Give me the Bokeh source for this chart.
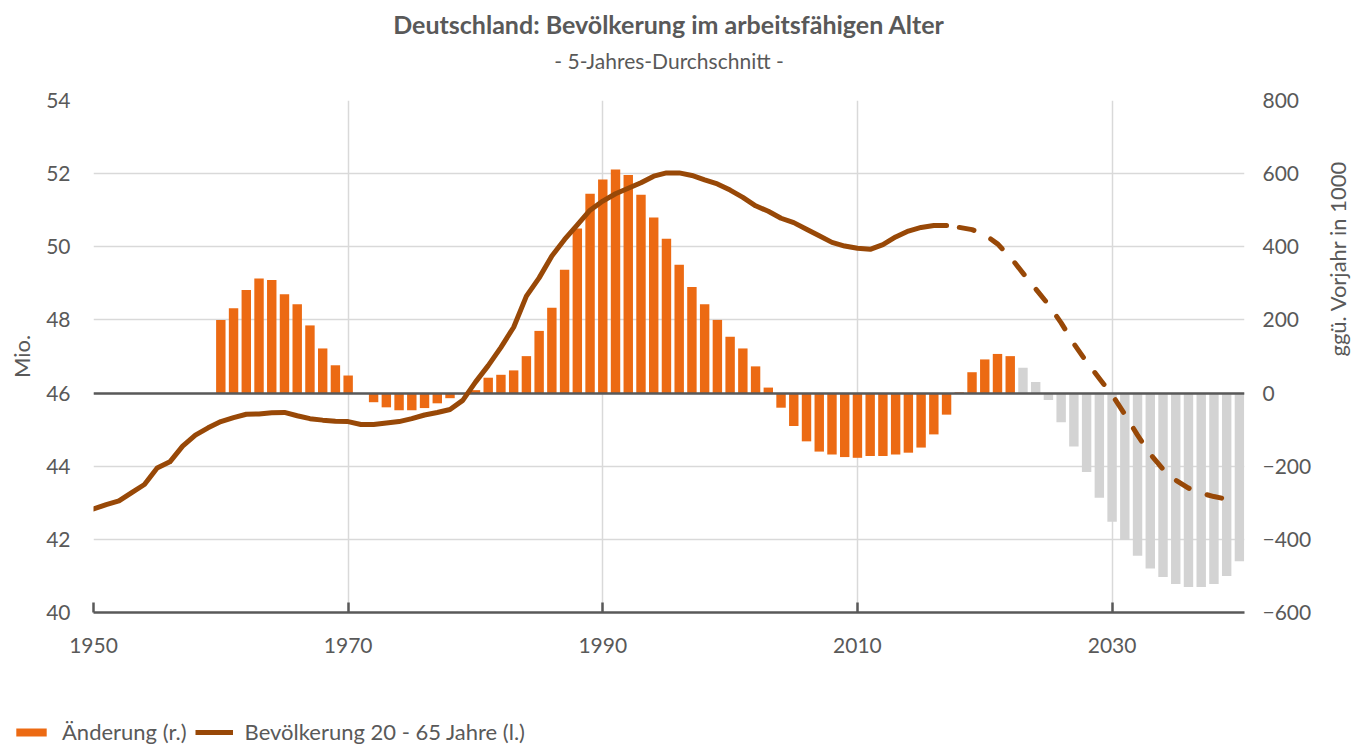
import math
from bokeh.plotting import figure
from bokeh.layouts import column
from bokeh.models import (Range1d, LinearAxis, FixedTicker, ColumnDataSource,
                          Legend, LegendItem, Title)
from bokeh.embed import file_html
from bokeh.resources import INLINE

# ---------------- data ----------------
line_years = list(range(1950, 2041))
population = [
    42.83, 42.95, 43.05, 43.28, 43.5, 43.95, 44.12, 44.55, 44.85, 45.05,   # 1950-59
    45.22, 45.33, 45.42, 45.43, 45.46, 45.47, 45.38, 45.3, 45.26, 45.23,   # 1960-69
    45.22, 45.14, 45.14, 45.18, 45.22, 45.3, 45.4, 45.47, 45.55, 45.8,     # 1970-79
    46.3, 46.75, 47.25, 47.8, 48.65, 49.15, 49.75, 50.2, 50.6, 51.0,       # 1980-89
    51.25, 51.45, 51.6, 51.75, 51.93, 52.02, 52.02, 51.95, 51.83, 51.72,   # 1990-99
    51.55, 51.35, 51.12, 50.97, 50.78, 50.66, 50.48, 50.3, 50.12, 50.02,   # 2000-09
    49.96, 49.93, 50.06, 50.27, 50.43, 50.53, 50.58, 50.58,                # 2010-17
    50.53, 50.47, 50.33, 50.08, 49.72, 49.28, 48.85, 48.42, 47.92, 47.35,  # 2018-27
    46.85, 46.4, 45.95, 45.42, 44.85, 44.33, 43.92, 43.62, 43.4, 43.26,    # 2028-37
    43.17, 43.1, 43.05,                                                    # 2038-40
]
last_actual_line_year = 2017

bar_years = list(range(1960, 2041))
change = [
    200, 232, 282, 313, 309, 270, 243, 185, 122, 76,       # 1960-69
    48, -2, -25, -39, -47, -47, -41, -28, -14, -3,         # 1970-79
    8, 42, 50, 62, 101, 170, 233, 337, 450, 545,           # 1980-89
    584, 611, 596, 542, 480, 422, 351, 290, 243, 200,      # 1990-99
    154, 122, 73, 15, -40, -90, -132, -160, -168, -175,    # 2000-09
    -177, -172, -172, -168, -163, -149, -113, -59, 2, 57,  # 2010-19
    92, 107, 101, 69, 30, -19, -80, -146, -216, -286,      # 2020-29
    -352, -402, -445, -480, -503, -522, -530, -530, -522, -500,  # 2030-39
    -460,                                                  # 2040
]
first_forecast_bar_year = 2023

x_ticks = [1950, 1970, 1990, 2010, 2030]
left_ticks = [40, 42, 44, 46, 48, 50, 52, 54]
right_ticks = [-600, -400, -200, 0, 200, 400, 600, 800]
zero_level = [0]

title_text = "Deutschland: Bevölkerung im arbeitsfähigen Alter"
subtitle_text = "- 5-Jahres-Durchschnitt -"
left_label = "Mio."
right_label = "ggü. Vorjahr in 1000"
bar_legend = "Änderung (r.)"
line_legend = "Bevölkerung 20 - 65 Jahre (l.)"

# ---------------- style ----------------
FONT = "Lato"
TXT = "#595959"
ORANGE = "#EC6A13"
GREY = "#D3D3D3"
BROWN = "#984807"
GRID = "#D9D9D9"
AXIS = "#595959"
TICK_FS = "21px"
LABEL_FS = "22px"

p = figure(width=1367, height=700, title=None,
           x_range=Range1d(1950, 2040.4), y_range=Range1d(40, 54),
           output_backend="svg", toolbar_location=None,
           min_border_left=93, min_border_right=120,
           min_border_top=99, min_border_bottom=88)
p.outline_line_color = None
p.background_fill_color = "white"
p.border_fill_color = "white"
p.extra_y_ranges = {"right": Range1d(-600, 800)}

# bars
act_src = ColumnDataSource(dict(
    x=[y for y in bar_years if y < first_forecast_bar_year],
    top=[v for y, v in zip(bar_years, change) if y < first_forecast_bar_year]))
fc_src = ColumnDataSource(dict(
    x=[y for y in bar_years if y >= first_forecast_bar_year],
    top=[v for y, v in zip(bar_years, change) if y >= first_forecast_bar_year]))
p.vbar(x="x", top="top", bottom=0, width=0.74, source=act_src,
       y_range_name="right", fill_color=ORANGE, line_color=None)
p.vbar(x="x", top="top", bottom=0, width=0.74, source=fc_src,
       y_range_name="right", fill_color=GREY, line_color=None)

# zero line
p.hspan(y=zero_level, y_range_name="right", line_color=AXIS, line_width=2.5)

# population line
solid_src = ColumnDataSource(dict(
    x=[y for y in line_years if y <= last_actual_line_year],
    y=[v for y, v in zip(line_years, population) if y <= last_actual_line_year]))
dash_src = ColumnDataSource(dict(
    x=[y for y in line_years if y > last_actual_line_year],
    y=[v for y, v in zip(line_years, population) if y > last_actual_line_year]))
p.line("x", "y", source=solid_src, line_color=BROWN, line_width=5,
       line_join="round", line_cap="round")
p.line("x", "y", source=dash_src, line_color=BROWN, line_width=5,
       line_dash="15 19", line_join="round", line_cap="round")

# axes
xa = p.xaxis[0]
xa.ticker = FixedTicker(ticks=x_ticks)
xa.axis_line_color = AXIS
xa.axis_line_width = 2.5
xa.major_tick_line_color = AXIS
xa.major_tick_line_width = 2.5
xa.major_tick_in = 10
xa.major_tick_out = 0
xa.minor_tick_line_color = None
xa.minor_tick_out = 0
xa.minor_tick_in = 0
xa.major_label_standoff = 25
xa.major_label_text_font = FONT
xa.major_label_text_font_size = TICK_FS
xa.major_label_text_color = TXT

ya = p.yaxis[0]
ya.ticker = FixedTicker(ticks=left_ticks)
ya.axis_line_color = None
ya.major_tick_line_color = None
ya.minor_tick_line_color = None
ya.major_tick_out = 0
ya.major_tick_in = 0
ya.minor_tick_out = 0
ya.minor_tick_in = 0
ya.major_label_standoff = 23
ya.major_label_text_font = FONT
ya.major_label_text_font_size = TICK_FS
ya.major_label_text_color = TXT
ya.axis_label = left_label
ya.axis_label_standoff = 8
ya.axis_label_text_font = FONT
ya.axis_label_text_font_size = LABEL_FS
ya.axis_label_text_font_style = "normal"
ya.axis_label_text_color = TXT

ra = LinearAxis(y_range_name="right", ticker=FixedTicker(ticks=right_ticks))
ra.axis_line_color = None
ra.major_tick_line_color = None
ra.minor_tick_line_color = None
ra.major_tick_out = 0
ra.major_tick_in = 0
ra.minor_tick_out = 0
ra.minor_tick_in = 0
ra.major_label_standoff = 18
ra.major_label_text_font = FONT
ra.major_label_text_font_size = TICK_FS
ra.major_label_text_color = TXT
ra.axis_label = right_label
ra.axis_label_orientation = math.pi / 2
ra.axis_label_standoff = 23
ra.axis_label_text_font = FONT
ra.axis_label_text_font_size = LABEL_FS
ra.axis_label_text_font_style = "normal"
ra.axis_label_text_color = TXT
p.add_layout(ra, "right")

p.xgrid.ticker = FixedTicker(ticks=x_ticks)
p.xgrid.grid_line_color = GRID
p.xgrid.grid_line_width = 1.5
p.ygrid.ticker = FixedTicker(ticks=left_ticks)
p.ygrid.grid_line_color = GRID
p.ygrid.grid_line_width = 1.5

# titles: a thin spacer next to the frame, then subtitle, then title
p.add_layout(Title(text=" ", text_font_size="1px", standoff=25), "above")
p.add_layout(Title(text=subtitle_text, align="center", text_font=FONT,
                   text_font_size="21px", text_font_style="normal",
                   text_color=TXT, standoff=0), "above")
p.add_layout(Title(text=title_text, align="center", text_font=FONT,
                   text_font_size="25px", text_font_style="bold",
                   text_color=TXT, standoff=13), "above")

# ---------------- legend strip below the chart ----------------
lf = figure(width=1367, height=45, title=None,
            x_range=Range1d(0, 1), y_range=Range1d(0, 1),
            x_axis_location=None, y_axis_location=None,
            output_backend="svg", toolbar_location=None,
            min_border_left=0, min_border_right=0,
            min_border_top=0, min_border_bottom=0)
try:
    lf.frame_align = False
except AttributeError:
    pass
lf.outline_line_color = None
lf.grid.visible = False
# proxies that share the chart's data (outside this strip's visible range)
lf_bar = lf.vbar(x="x", top="top", bottom=0, width=0.74, source=act_src,
                 fill_color=ORANGE, line_color=None)
lf_line = lf.line("x", "y", source=solid_src, line_color=BROWN, line_width=5)
legend = Legend(items=[LegendItem(label=bar_legend, renderers=[lf_bar]),
                       LegendItem(label=line_legend, renderers=[lf_line])],
                orientation="horizontal", location=(12, 0),
                padding=0, margin=0, spacing=8, label_standoff=12,
                glyph_width=38, glyph_height=10,
                border_line_color=None, background_fill_alpha=0,
                label_text_font=FONT, label_text_font_size=LABEL_FS,
                label_text_color=TXT)
lf.add_layout(legend)

layout = column(p, lf, spacing=0)
open("out.html", "w").write(file_html(layout, INLINE))
